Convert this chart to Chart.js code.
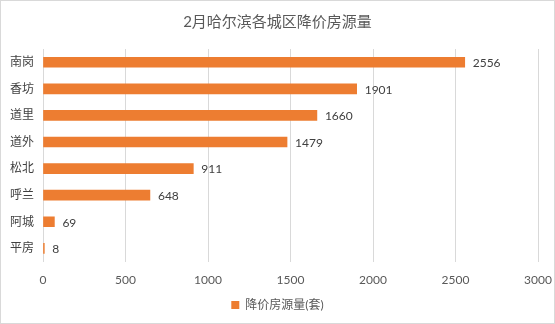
<!DOCTYPE html>
<html>
<head>
<meta charset="utf-8">
<script src="https://cdn.jsdelivr.net/npm/chart.js@4/dist/chart.umd.min.js"></script>
<style>
    html, body { margin: 0; padding: 0; background: #fff; }
    .chart-box {
        width: 553px;
        height: 322px;
        border: 1px solid #d9d9d9;
        position: relative;
    }
</style>
</head>
<body>
<div class="chart-box"><canvas id="priceDropChart"></canvas></div>
<script>
// 各城区降价房源量
const districts = ['南岗', '香坊', '道里', '道外', '松北', '呼兰', '阿城', '平房'];
const dropCounts = [2556, 1901, 1660, 1479, 911, 648, 69, 8];
const xTicks = [0, 500, 1000, 1500, 2000, 2500, 3000];

const seriesName = '降价房源量(套)';
const chartTitle = '2月哈尔滨各城区降价房源量';

const fontFamily = 'Lato, "Noto Sans CJK SC", sans-serif';

// 柱子右侧的数值标签
const valueLabelPlugin = {
    id: 'valueLabels',
    afterDatasetsDraw: function(chart) {
        const ctx = chart.ctx;
        const meta = chart.getDatasetMeta(0);
        ctx.save();
        ctx.font = '12px ' + fontFamily;
        ctx.fillStyle = '#404040';
        ctx.textAlign = 'left';
        ctx.textBaseline = 'middle';
        meta.data.forEach((bar, i) => {
            ctx.fillText(String(chart.data.datasets[0].data[i]), bar.x + 8, bar.y + 1);
        });
        ctx.restore();
    }
};

const ctx = document.getElementById('priceDropChart').getContext('2d');
new Chart(ctx, {
    type: 'bar',
    data: {
        labels: districts,
        datasets: [{
            label: seriesName,
            data: dropCounts,
            backgroundColor: '#ED7D31',
            borderWidth: 0,
            barThickness: 10
        }]
    },
    options: {
        indexAxis: 'y',
        responsive: true,
        maintainAspectRatio: false,
        animation: false,
        layout: { padding: { left: 0, right: 0, top: 4, bottom: 2 } },
        scales: {
            x: {
                min: 0,
                max: 3000,
                afterBuildTicks: function(axis) {
                    axis.ticks = xTicks.map(v => ({ value: v }));
                },
                afterFit: function(axis) {
                    // 右侧留白和刻度区高度微调
                    axis.paddingRight = 16;
                    axis.height = axis.height - 5;
                },
                grid: {
                    color: '#d9d9d9',
                    drawTicks: false
                },
                border: { display: false },
                ticks: {
                    padding: 11,
                    color: '#595959',
                    font: { family: fontFamily, size: 12 },
                    callback: function(value) { return String(value); }
                }
            },
            y: {
                grid: { display: false, drawTicks: false },
                border: { display: false },
                ticks: {
                    padding: 9,
                    color: '#404040',
                    font: { family: fontFamily, size: 12 }
                }
            }
        },
        plugins: {
            title: {
                display: true,
                text: chartTitle,
                color: '#595959',
                font: { family: fontFamily, size: 15, weight: 'normal' },
                padding: { top: 8, bottom: 18 }
            },
            legend: {
                display: true,
                position: 'bottom',
                labels: {
                    boxWidth: 8,
                    boxHeight: 8,
                    color: '#595959',
                    padding: 6,
                    font: { family: fontFamily, size: 12 }
                }
            },
            tooltip: { enabled: false }
        }
    },
    plugins: [valueLabelPlugin]
});
</script>
</body>
</html>
